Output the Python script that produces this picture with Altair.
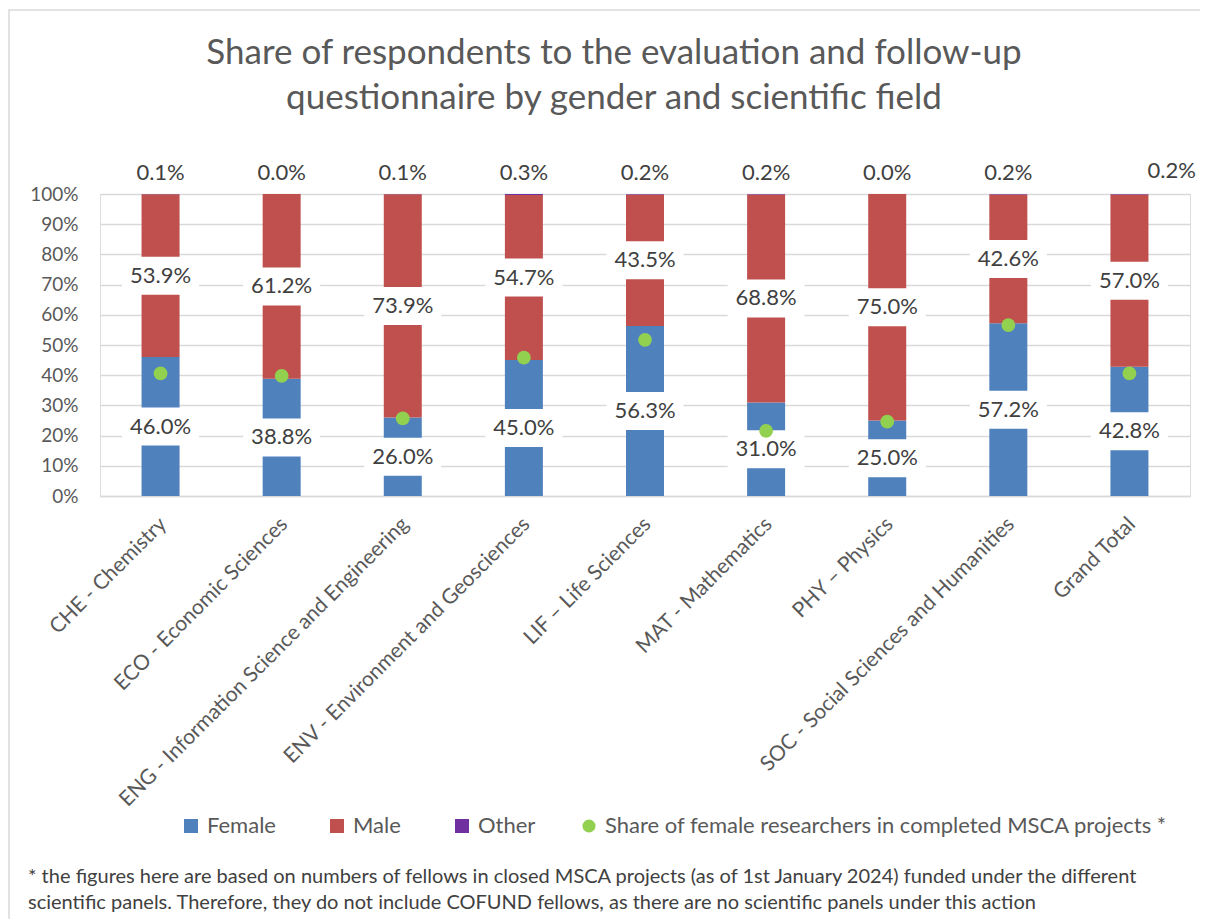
import altair as alt
import pandas as pd

categories = [
    "CHE - Chemistry",
    "ECO - Economic Sciences",
    "ENG - Information Science and Engineering",
    "ENV - Environment and Geosciences",
    "LIF – Life Sciences",
    "MAT - Mathematics",
    "PHY – Physics",
    "SOC - Social Sciences and Humanities",
    "Grand Total",
]
female = [46.0, 38.8, 26.0, 45.0, 56.3, 31.0, 25.0, 57.2, 42.8]
male = [53.9, 61.2, 73.9, 54.7, 43.5, 68.8, 75.0, 42.6, 57.0]
other = [0.1, 0.0, 0.1, 0.3, 0.2, 0.2, 0.0, 0.2, 0.2]
msca_female = [40.6, 39.8, 25.7, 45.8, 51.7, 21.6, 24.6, 56.6, 40.6]

series = ["Female", "Male", "Other"]
series_colors = ["#4F81BD", "#C0504D", "#7030A0"]
point_label = "Share of female researchers in completed MSCA projects *"
point_color = "#92D050"
y_ticks = [0, 10, 20, 30, 40, 50, 60, 70, 80, 90, 100]

title_lines = [
    "Share of respondents to the evaluation and follow-up",
    "questionnaire by gender and scientific field",
]
footnote_lines = [
    "* the figures here are based on numbers of fellows in closed MSCA projects (as of  1st January 2024) funded under the different",
    "scientific panels. Therefore, they do not include COFUND fellows, as there are no scientific panels under this action",
]

FONT = "Lato"
GREY = "#595959"
DARK = "#404040"

rows = []
for i, c in enumerate(categories):
    start = 0.0
    for s, vals in zip(series, [female, male, other]):
        v = vals[i]
        rows.append(dict(cat=c, series=s, value=v, start=start, end=min(start + v, 100.0),
                         mid=start + v / 2, label=f"{v:.1f}%"))
        start += v
df = pd.DataFrame(rows)
pts = pd.DataFrame(dict(cat=categories, share=msca_female, legend=[point_label] * len(categories)))
one = pd.DataFrame({"a": [0]})

yscale = alt.Scale(domain=[0, 100], nice=False)
yaxis = alt.Axis(values=y_ticks, labelExpr="datum.value + '%'", title=None,
                 labelFontSize=19, labelColor=GREY, labelFont=FONT, labelPadding=22,
                 ticks=False, domain=False, gridColor="#D9D9D9", gridWidth=1.5)
xaxis = alt.Axis(labelAngle=-45, labelAlign="right", labelBaseline="top",
                 labelPadding=17, labelOffset=-5, labelFontSize=21, labelColor=GREY,
                 labelFont=FONT, ticks=False, domainColor="#D9D9D9", domainWidth=1.5,
                 labelLimit=500, title=None)


def X():
    return alt.X("cat:N", sort=categories, title=None,
                 scale=alt.Scale(paddingInner=0.2, paddingOuter=0.1), axis=xaxis)


def Y(field):
    return alt.Y(field, scale=yscale, title=None, axis=yaxis)


base = alt.Chart(df)

bars = base.mark_bar(size=38).encode(
    x=X(),
    y=Y("start:Q"),
    y2="end:Q",
    color=alt.Color("series:N", scale=alt.Scale(domain=series, range=series_colors),
                    legend=alt.Legend(title=None, orient="none", legendX=80, legendY=621,
                                      direction="horizontal", symbolType="square", symbolSize=196,
                                      labelFontSize=22, labelColor=GREY, labelFont=FONT,
                                      labelOffset=5, columnPadding=50, symbolStrokeWidth=0)),
)

fm = base.transform_filter(alt.datum.series != "Other")

boxes = fm.mark_tick(color="white", opacity=1, thickness=38, size=77).encode(
    x=X(), y=Y("mid:Q"))

fm_text = fm.mark_text(fontSize=22, font=FONT, color=DARK, baseline="middle").encode(
    x=X(), y=Y("mid:Q"), text="label:N")

oth = base.transform_filter((alt.datum.series == "Other") & (alt.datum.cat != "Grand Total"))
oth_text = oth.mark_text(fontSize=22, font=FONT, color=DARK, baseline="middle", dy=-21).encode(
    x=X(), y=Y("end:Q"), text="label:N")

gt = base.transform_filter((alt.datum.series == "Other") & (alt.datum.cat == "Grand Total"))
gt_text = gt.mark_text(fontSize=22, font=FONT, color=DARK, baseline="middle", align="left",
                       dx=18, dy=-23).encode(
    x=X(), y=Y("end:Q"), text="label:N")

points = alt.Chart(pts).mark_point(filled=True, opacity=1, size=190, color=point_color).encode(
    x=X(),
    y=Y("share:Q"),
    shape=alt.Shape("legend:N", scale=alt.Scale(range=["circle"]),
                    legend=alt.Legend(title=None, orient="none", legendX=478, legendY=621,
                                      symbolFillColor=point_color, symbolStrokeWidth=0,
                                      symbolSize=170, labelFontSize=22, labelColor=GREY,
                                      labelFont=FONT, labelOffset=5, labelLimit=800)),
)

title = alt.Chart(one).mark_text(text=title_lines, fontSize=35, font=FONT, color=GREY,
                                 lineHeight=45, align="center", baseline="middle").encode(
    x=alt.value(514), y=alt.value(-141))

footer = alt.Chart(one).mark_text(text=footnote_lines, fontSize=20, font=FONT, color=DARK,
                                  lineHeight=26, align="left", baseline="middle").encode(
    x=alt.value(-72), y=alt.value(683))

frame = alt.Chart(one).mark_rect(fill=None, stroke="#D9D9D9", strokeWidth=1.5).encode(
    x=alt.value(-91), x2=alt.value(1300), y=alt.value(-184), y2=alt.value(900))

chart = alt.layer(frame, bars, boxes, fm_text, oth_text, gt_text, points, title, footer).properties(
    width=1090, height=302,
    autosize=alt.AutoSizeParams(type="none"),
    padding={"left": 92, "top": 186, "right": 10, "bottom": 425},
).configure_view(stroke=None).configure(background="white")

chart.save("out.html", embed_options={"renderer": "svg", "actions": False})
